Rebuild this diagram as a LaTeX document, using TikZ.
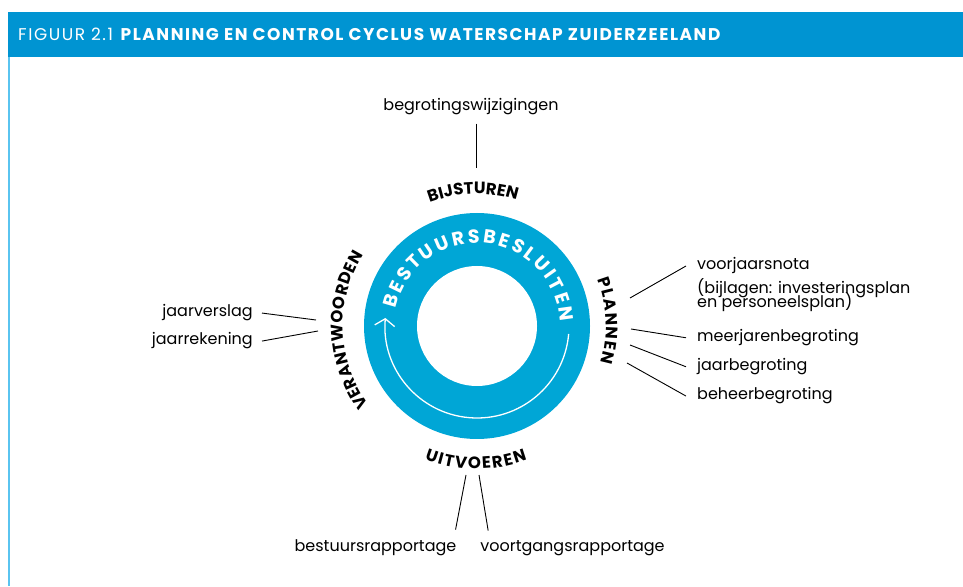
\documentclass[tikz,border=0pt]{standalone}
\usepackage{fontspec}
\setmainfont{Poppins}
\usetikzlibrary{decorations.text,arrows.meta}
\definecolor{barblue}{RGB}{0,148,210}
\definecolor{ringblue}{RGB}{0,166,214}
\definecolor{lineblue}{RGB}{90,196,240}
\newfontfamily\titlefont[LetterSpace=9]{Poppins}
\newcommand{\capsfont}{\bfseries\fontsize{16.5}{16.5}\selectfont}
\begin{document}
\begin{tikzpicture}[x=1pt,y=1pt,
  lbl/.style={font=\fontsize{16}{16}\selectfont, inner sep=0pt},
  conn/.style={line width=0.9pt, black},
  arctext/.style={decorate, decoration={text along path, text align=center, text={|\capsfont|#1}}},
  fittext/.style={decorate, decoration={text along path, text align=fit to path, text={|\capsfont|#1}}}]
\useasboundingbox (0,0) rectangle (963,586);
% header
\fill[barblue] (8,529) rectangle (963,574);
\fill[lineblue] (8,0) rectangle (10,529);
\node[anchor=base west, inner sep=0pt, text=white, font=\titlefont\fontsize{17}{17}\selectfont] (title) at (18,545)
  {FIGUUR 2.1 \textbf{PLANNING EN CONTROL CYCLUS WATERSCHAP ZUIDERZEELAND}};
% ring
\coordinate (c) at (477,260);
\node[circle, fill=ringblue, minimum size=226pt, inner sep=0pt] (ring) at (c) {};
\node[circle, fill=white, minimum size=120pt, inner sep=0pt] (hole) at (c) {};
\draw[white, line width=1.3pt, -{Straight Barb[length=7pt,width=20pt,line width=1.3pt]}]
  ([shift={(-5:92)}]c) arc[start angle=-5, end angle=-185, radius=92];
\path[decorate, decoration={text along path, text align=fit to path, text color=white,
  text={|\bfseries\fontsize{19}{19}\selectfont|BESTUURSBESLUITEN}}]
  ([shift={(168:83)}]c) arc[start angle=168, end angle=3, radius=83];
% phase labels
\path[arctext=BIJSTUREN] ([shift={(131.7:132)}]c) arc[start angle=131.7, end angle=51.7, radius=132];
\path[fittext=PLANNEN] ([shift={(21:129)}]c) arc[start angle=21, end angle=-16.5, radius=129];
\path[fittext=VERANTWOORDEN] ([shift={(216:134)}]c) arc[start angle=216, end angle=148, radius=134];
\path[fittext=UITVOEREN] ([shift={(248.5:143)}]c) arc[start angle=248.5, end angle=290.5, radius=143];
% top
\node[lbl, anchor=base] (begr) at (471,475) {begrotingswijzigingen};
\coordinate (bijtop) at (476,418);
\draw[conn] (bijtop |- begr.south) ++(0,-8) -- (bijtop);
% right
\node[lbl, anchor=base west] (voorj) at (697,316) {voorjaarsnota};
\node[lbl, anchor=base west] (bijl1) at (697,292.7) {(bijlagen: investeringsplan};
\node[lbl, anchor=base west] (bijl2) at (697,278) {en personeelsplan)};
\node[lbl, anchor=base west] (meer) at (697,244.3) {meerjarenbegroting};
\node[lbl, anchor=base west] (jaarb) at (697,215.3) {jaarbegroting};
\node[lbl, anchor=base west] (beh) at (697,186) {beheerbegroting};
\coordinate (p1) at (630,288);
\coordinate (p2) at (631,257);
\coordinate (p3) at (630,241);
\coordinate (p4) at (627,223);
\draw[conn] (p1) -- ([xshift=-11pt]voorj.west);
\draw[conn] (p2) -- ([xshift=-11pt]meer.west);
\draw[conn] (p3) -- ([xshift=-11pt]jaarb.west);
\draw[conn] (p4) -- ([xshift=-11pt]beh.west);
% left
\node[lbl, anchor=base east] (jverslag) at (253,269) {jaarverslag};
\node[lbl, anchor=base east] (jrek) at (253,241) {jaarrekening};
\coordinate (q1) at (316,266);
\coordinate (q2) at (318,255);
\draw[conn] (q1) -- ([xshift=9pt]jverslag.east);
\draw[conn] (q2) -- ([xshift=9pt]jrek.east);
% bottom
\node[lbl, anchor=base] (bestr) at (375.5,34.3) {bestuursrapportage};
\node[lbl, anchor=base] (voortg) at (572.5,34.3) {voortgangsrapportage};
\coordinate (u1) at (466,111);
\coordinate (u2) at (479,111);
\draw[conn] (u1) -- ([shift={(-1,10)}]bestr.north east);
\draw[conn] (u2) -- ([shift={(8,10)}]voortg.north west);
\end{tikzpicture}
\end{document}
